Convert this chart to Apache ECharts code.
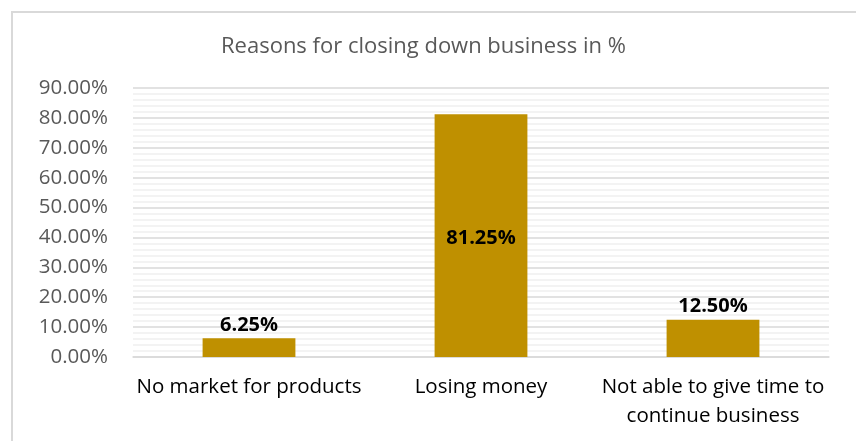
<!DOCTYPE html>
<html>
<head>
<meta charset="utf-8">
<script src="https://cdn.jsdelivr.net/npm/echarts@6/dist/echarts.min.js"></script>
<style>
  html, body { margin: 0; padding: 0; background: #fff; }
  #frame { position: absolute; left: 11px; top: 11px; width: 860px; height: 440px;
           border-left: 2px solid #d9d9d9; border-top: 2px solid #d9d9d9; box-sizing: border-box; }
  #chart { position: absolute; left: 0; top: 0; width: 856px; height: 441px; }
</style>
</head>
<body>
<div id="frame"></div>
<div id="chart"></div>
<script>
// Survey results: why businesses closed down
const categories = ['No market for products', 'Losing money', 'Not able to give time to\ncontinue business'];
const shares = [6.25, 81.25, 12.5];
const yTicks = { min: 0, max: 90, interval: 10 };

const FONT = '"Open Sans", Lato, sans-serif';

const chart = echarts.init(document.getElementById('chart'), null, { renderer: 'canvas' });
chart.setOption({
  backgroundColor: 'transparent',
  animation: false,
  title: {
    text: 'Reasons for closing down business in %',
    left: 216,
    top: 31,
    textStyle: { fontFamily: FONT, fontSize: 22, fontWeight: 'normal', color: '#595959' }
  },
  grid: { left: 133, right: 27, top: 88, bottom: 84 },
  xAxis: {
    type: 'category',
    data: categories,
    axisLine: { lineStyle: { color: '#d9d9d9', width: 1.5 } },
    axisTick: { show: false },
    axisLabel: { fontFamily: FONT, fontSize: 20.5, color: '#000', margin: 16, lineHeight: 29, interval: 0 }
  },
  yAxis: {
    type: 'value',
    min: yTicks.min, max: yTicks.max, interval: yTicks.interval,
    axisLine: { show: false },
    axisTick: { show: false },
    axisLabel: {
      fontFamily: FONT, fontSize: 20.5, color: '#595959', margin: 25,
      formatter: v => v.toFixed(2) + '%'
    },
    splitLine: { lineStyle: { color: '#d9d9d9', width: 1.5 } },
    minorTick: { show: false, splitNumber: 5 },
    minorSplitLine: { show: true, lineStyle: { color: '#f0f0f0', width: 1.5 } }
  },
  series: [{
    type: 'bar',
    data: shares.map((v, i) => ({
      value: v,
      label: i === 1 ? { position: 'inside', offset: [0, 3] } : { position: 'top' }
    })),
    barWidth: '40%',
    itemStyle: { color: '#BF9000' },
    label: {
      show: true,
      fontFamily: FONT, fontSize: 20, fontWeight: 'bold', color: '#000',
      distance: 3,
      formatter: p => p.value.toFixed(2) + '%'
    }
  }]
});
</script>
</body>
</html>
